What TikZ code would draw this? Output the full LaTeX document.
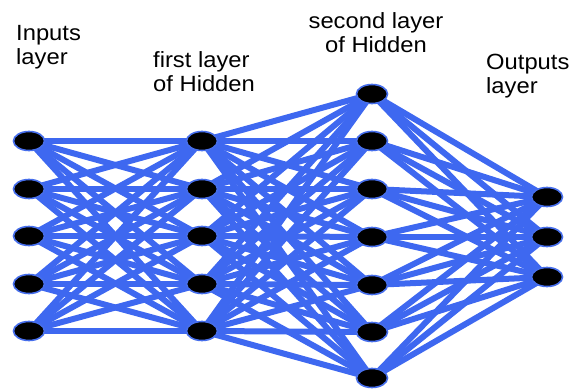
\documentclass[tikz,border=0pt]{standalone}
\usepackage{fontspec}
\setmainfont{Liberation Sans}[FakeStretch=1.08]
\usetikzlibrary{shapes.geometric}
\definecolor{linkblue}{RGB}{62,104,240}
\definecolor{halo}{RGB}{70,110,235}
\tikzset{
  neuron/.style={ellipse, fill=black, draw=halo, line width=1.6pt,
    minimum width=31pt, minimum height=19pt, inner sep=0pt},
  link/.style={linkblue, line width=6pt},
  caption/.style={font=\fontsize{22}{24}\selectfont, align=left, inner sep=0pt, anchor=base west},
  capc/.style={font=\fontsize{22}{24}\selectfont, align=center, inner sep=0pt, anchor=base}
}
\begin{document}
\begin{tikzpicture}[x=1pt,y=-1pt]
\useasboundingbox (0,0) rectangle (573,390);
% input layer
\foreach \i/\y in {1/141,2/189,3/236,4/284,5/331}
  \coordinate (pi\i) at (29,\y);
% first hidden layer
\foreach \i/\y in {1/141,2/189,3/236,4/284,5/331}
  \coordinate (pa\i) at (202,\y);
% second hidden layer
\foreach \i/\y in {1/94,2/141,3/189,4/237,5/285,6/332,7/378}
  \coordinate (pb\i) at (372,\y);
% output layer
\foreach \i/\y in {1/197,2/237,3/277}
  \coordinate (po\i) at (547,\y);

% connections
\foreach \a in {1,...,5}
  \foreach \b in {1,...,5}
    \draw[link] (pi\a) -- (pa\b);
\foreach \a in {1,...,5}
  \foreach \b in {1,...,7}
    \draw[link] (pa\a) -- (pb\b);
\foreach \a in {1,...,7}
  \foreach \b in {1,...,3}
    \draw[link] (pb\a) -- (po\b);

% neurons
\foreach \i in {1,...,5} \node[neuron] (in\i) at (pi\i) {};
\foreach \i in {1,...,5} \node[neuron] (ha\i) at (pa\i) {};
\foreach \i in {1,...,7} \node[neuron] (hb\i) at (pb\i) {};
\foreach \i in {1,...,3} \node[neuron] (out\i) at (po\i) {};

% layer captions (anchored at the baseline of their last line)
\node[caption] (tin) at (16,65) {Inputs\\layer};
\node[caption] (tha) at (153,92) {first layer\\of Hidden};
\node[capc] (thb) at (376,53) {second layer\\of Hidden};
\node[caption] (tout) at (486,94) {Outputs\\layer};
\end{tikzpicture}
\end{document}
